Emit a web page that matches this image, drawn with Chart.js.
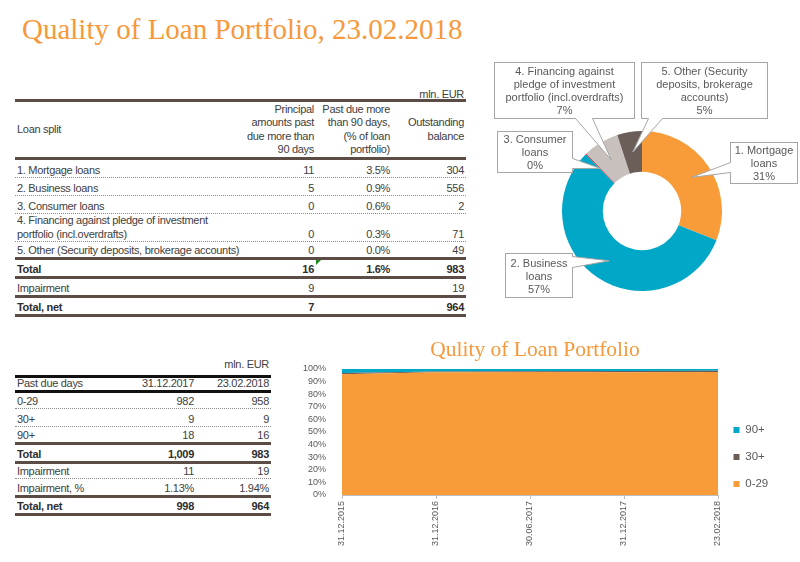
<!DOCTYPE html>
<html><head><meta charset="utf-8">
<script src="https://cdn.jsdelivr.net/npm/chart.js@4.4.1/dist/chart.umd.min.js"></script>
<style>
html,body{margin:0;padding:0;background:#fff;}
body{width:800px;height:562px;position:relative;overflow:hidden;font-family:"Liberation Sans",Arial,sans-serif;}
#title{position:absolute;left:22px;top:15px;font:29px "Liberation Serif",serif;color:#F7983A;white-space:nowrap;line-height:1;}
.tbl{position:absolute;color:#404040;font-size:11px;letter-spacing:-0.3px;}
.row{display:flex;box-sizing:border-box;align-items:flex-end;}
.row>div{box-sizing:border-box;padding:0 2px 0 2px;line-height:13px;white-space:nowrap;}
.r{text-align:right}
.thick{border-bottom:3px solid #5b4d46;}
.black{border-bottom:3px solid #111;}
.dot{border-bottom:1px dotted #8a8a8a;}
.b{font-weight:bold;color:#2e2e2e}
#marker{position:absolute;left:316px;top:260px;width:0;height:0;border-top:5px solid #1f8a1f;border-right:5px solid transparent;}
canvas{position:absolute;}
</style></head>
<body>
<div id="title">Quality of Loan Portfolio, 23.02.2018</div>
<div id="t1" class="tbl" style="left:15px;top:88px;width:451px"></div>
<div id="t2" class="tbl" style="left:15px;top:358px;width:256px"></div>
<div id="marker"></div>
<canvas id="donut" width="320" height="250" style="left:480px;top:55px;width:320px;height:250px"></canvas>
<canvas id="area" width="490" height="226" style="left:290px;top:330px;width:490px;height:226px"></canvas>
<script>
// ---------- data: loan split table ----------
const loanCategories = ["1. Mortgage loans","2. Business loans","3. Consumer loans","4. Financing against pledge of investment\nportfolio (incl.overdrafts)","5. Other (Security deposits, brokerage accounts)"];
const principalPastDue90 = [11, 5, 0, 0, 0];
const pastDue90Pct = ["3.5%","0.9%","0.6%","0.3%","0.0%"];
const outstandingBalance = [304, 556, 2, 71, 49];
const loanHeader = ["Loan split","Principal\namounts past\ndue more than\n90 days","Past due more\nthan 90 days,\n(% of loan\nportfolio)","Outstanding\nbalance"];
const loanTotalRow = ["Total","16","1.6%","983"];
const loanImpairmentRow = ["Impairment","9","","19"];
const loanTotalNetRow = ["Total, net","7","","964"];

// ---------- data: doughnut labels ----------
const donutLabels = ["1. Mortgage\nloans","2. Business\nloans","3. Consumer\nloans","4. Financing against\npledge of investment\nportfolio (incl.overdrafts)","5. Other (Security\ndeposits, brokerage\naccounts)"];

// ---------- data: past due table ----------
const pastDueHeader = ["Past due days","31.12.2017","23.02.2018"];
const pastDueBuckets = ["0-29","30+","90+"];
const pastDue2017 = ["982","9","18"];
const pastDue2018 = ["958","9","16"];
const pdTotalRow = ["Total","1,009","983"];
const pdImpairmentRow = ["Impairment","11","19"];
const pdImpairmentPctRow = ["Impairment, %","1.13%","1.94%"];
const pdTotalNetRow = ["Total, net","998","964"];

// ---------- data: area chart ----------
const areaDates = ["31.12.2015","31.12.2016","30.06.2017","31.12.2017","23.02.2018"];
const share0to29 = [95.7, 97.3, 97.5, 97.3, 97.5];
const share30 = [1.0, 0.6, 0.6, 0.9, 0.9];
const share90 = [3.3, 2.1, 1.9, 1.8, 1.6];

const FONT = "'Liberation Sans', Arial, sans-serif";
const ORANGE = '#F89C3A', BLUE = '#00A7C6', DARK = '#6B5E58', LIGHT = '#C7C0BC', RED = '#E0393E';

function addRow(parent, widths, cells, opts){
  const row = document.createElement('div');
  row.className = 'row ' + (opts.cls || '');
  row.style.height = opts.h + 'px';
  if (opts.center) row.style.alignItems = 'center';
  cells.forEach((c, i) => {
    const d = document.createElement('div');
    d.style.width = widths[i] + 'px';
    if (i > 0) d.className = 'r';
    if (opts.bold) d.className += ' b';
    if (opts.lh) d.style.lineHeight = opts.lh + 'px';
    if (opts.pb !== undefined) d.style.paddingBottom = opts.pb + 'px';
    d.innerHTML = String(c).split('\n').join('<br>');
    row.appendChild(d);
  });
  parent.appendChild(row);
}

// left table
const t1 = document.getElementById('t1');
const w1 = [225, 76, 76, 74];
addRow(t1, w1, ["","","","mln. EUR"], {h:14, cls:'thick', lh:10});
addRow(t1, w1, loanHeader, {h:58, cls:'thick', center:true, lh:13.5});
const rowH = [18, 18, 18, 28, 18];
loanCategories.forEach((c, i) => {
  addRow(t1, w1, [c, principalPastDue90[i], pastDue90Pct[i], outstandingBalance[i]],
    {h:rowH[i], cls: i === loanCategories.length - 1 ? 'thick' : 'dot', lh: i === 3 ? 13.5 : 13});
});
addRow(t1, w1, loanTotalRow, {h:19, cls:'thick', bold:true});
addRow(t1, w1, loanImpairmentRow, {h:19, cls:'thick'});
addRow(t1, w1, loanTotalNetRow, {h:19, cls:'thick', bold:true});

// bottom-left table
const t2 = document.getElementById('t2');
const w2 = [105, 76, 75];
addRow(t2, w2, ["","","mln. EUR"], {h:20, cls:'black', pb:4});
addRow(t2, w2, pastDueHeader, {h:15, cls:'black'});
const pdH = [16, 18, 18];
pastDueBuckets.forEach((b, i) => {
  addRow(t2, w2, [b, pastDue2017[i], pastDue2018[i]], {h:pdH[i], cls: i === 2 ? 'thick' : 'dot'});
});
addRow(t2, w2, pdTotalRow, {h:19, cls:'thick', bold:true});
addRow(t2, w2, pdImpairmentRow, {h:15, cls:'dot'});
addRow(t2, w2, pdImpairmentPctRow, {h:19, cls:'thick'});
addRow(t2, w2, pdTotalNetRow, {h:18, cls:'thick', bold:true});

// ---------- doughnut ----------
const calloutBoxes = [
  {x:250, y:87, w:67, h:41, side:'left', base:[107,117]},
  {x:25, y:198, w:67, h:44, side:'right', base:[201,212]},
  {x:17, y:76, w:75, h:41, side:'right', base:[103,113]},
  {x:14, y:7, w:140, h:56, side:'bottom', base:[95,112]},
  {x:161, y:7, w:126, h:56, side:'bottom', base:[168,182]}
];
const totalBalance = outstandingBalance.reduce((a, b) => a + b, 0);
const calloutPlugin = {
  id: 'callouts',
  afterDatasetsDraw(chart){
    const ctx = chart.ctx;
    const arcs = chart.getDatasetMeta(0).data;
    calloutBoxes.forEach((b, i) => {
      const tip = arcs[i].tooltipPosition();
      ctx.save();
      ctx.lineWidth = 1;
      ctx.strokeStyle = '#A6A6A6';
      ctx.fillStyle = '#FFFFFF';
      ctx.fillRect(b.x + 0.5, b.y + 0.5, b.w, b.h);
      ctx.strokeRect(b.x + 0.5, b.y + 0.5, b.w, b.h);
      let p0, p1;
      if (b.side === 'left') { p0 = [b.x, b.base[0]]; p1 = [b.x, b.base[1]]; }
      else if (b.side === 'right') { p0 = [b.x + b.w, b.base[0]]; p1 = [b.x + b.w, b.base[1]]; }
      else { p0 = [b.base[0], b.y + b.h]; p1 = [b.base[1], b.y + b.h]; }
      ctx.beginPath();
      ctx.moveTo(p0[0] + 0.5, p0[1] + 0.5);
      ctx.lineTo(tip.x, tip.y);
      ctx.lineTo(p1[0] + 0.5, p1[1] + 0.5);
      ctx.fill();
      ctx.stroke();
      // erase the box border under the wedge base
      if (b.side === 'bottom') ctx.fillRect(p0[0] + 1, p0[1], p1[0] - p0[0] - 1, 1);
      else ctx.fillRect(p0[0], p0[1] + 1, 1, p1[1] - p0[1] - 1);
      const pct = Math.round(outstandingBalance[i] / totalBalance * 100) + '%';
      const lines = donutLabels[i].split('\n').concat([pct]);
      ctx.fillStyle = '#595959';
      ctx.font = '11px ' + FONT;
      ctx.textAlign = 'center';
      ctx.textBaseline = 'middle';
      const lh = 13;
      const cy = b.y + b.h / 2 + 1.5;
      lines.forEach((t, k) => {
        ctx.fillText(t, b.x + b.w / 2 + 0.5, cy + (k - (lines.length - 1) / 2) * lh);
      });
      ctx.restore();
    });
  }
};
new Chart(document.getElementById('donut'), {
  type: 'doughnut',
  data: {
    labels: donutLabels.map(s => s.replace(/\n/g, ' ')),
    datasets: [{
      data: outstandingBalance,
      backgroundColor: [ORANGE, BLUE, RED, LIGHT, DARK],
      borderColor: '#FFFFFF',
      borderWidth: 0
    }]
  },
  options: {
    responsive: false,
    animation: false,
    cutout: '49%',
    layout: {padding: {left: 82, right: 78, top: 76, bottom: 14}},
    plugins: {legend: {display: false}, tooltip: {enabled: false}}
  },
  plugins: [calloutPlugin]
});

// ---------- area chart ----------
const legendFit = {
  id: 'legendFit',
  afterInit(chart){
    const lg = chart.legend;
    if (!lg) return;
    const f = lg.fit.bind(lg);
    lg.fit = function(){ f(); this.width = 62; };
    const d = lg.draw.bind(lg);
    lg.draw = function(){
      const ctx = this.ctx;
      ctx.save();
      ctx.translate(0, 14);
      d();
      ctx.restore();
    };
  }
};
new Chart(document.getElementById('area'), {
  type: 'line',
  data: {
    labels: areaDates,
    datasets: [
      {label: '0-29', data: share0to29, backgroundColor: ORANGE, borderColor: ORANGE, fill: 'origin'},
      {label: '30+', data: share30, backgroundColor: DARK, borderColor: DARK, fill: '-1'},
      {label: '90+', data: share90, backgroundColor: BLUE, borderColor: BLUE, fill: '-1'}
    ]
  },
  options: {
    responsive: false,
    animation: false,
    elements: {line: {tension: 0, borderWidth: 0}, point: {radius: 0, hoverRadius: 0}},
    layout: {padding: 0},
    scales: {
      x: {
        grid: {display: true, drawOnChartArea: false, drawTicks: true, tickLength: 4, color: '#BFBFBF'},
        border: {display: true, color: '#BFBFBF'},
        ticks: {minRotation: 90, maxRotation: 90, autoSkip: false, padding: 2, color: '#595959', font: {size: 9, family: FONT}},
        afterFit(s){ s.height = 61; }
      },
      y: {
        stacked: true, min: 0, max: 100,
        grid: {display: false},
        border: {display: false},
        ticks: {stepSize: 10, autoSkip: false, padding: 8, color: '#595959', font: {size: 9, family: FONT}, callback: v => v + '%'},
        afterFit(s){ s.width = 52; }
      }
    },
    plugins: {
      title: {display: true, text: 'Qulity of Loan Portfolio', color: '#F7983A',
        font: {family: "'Liberation Serif', serif", size: 21.5, weight: 'normal'}, padding: {top: 7, bottom: 6}},
      legend: {position: 'right', reverse: true,
        labels: {boxWidth: 6, boxHeight: 6, padding: 15.5, color: '#595959', font: {size: 11.5, family: FONT}}},
      tooltip: {enabled: false}
    }
  },
  plugins: [legendFit]
});
</script>
</body></html>
